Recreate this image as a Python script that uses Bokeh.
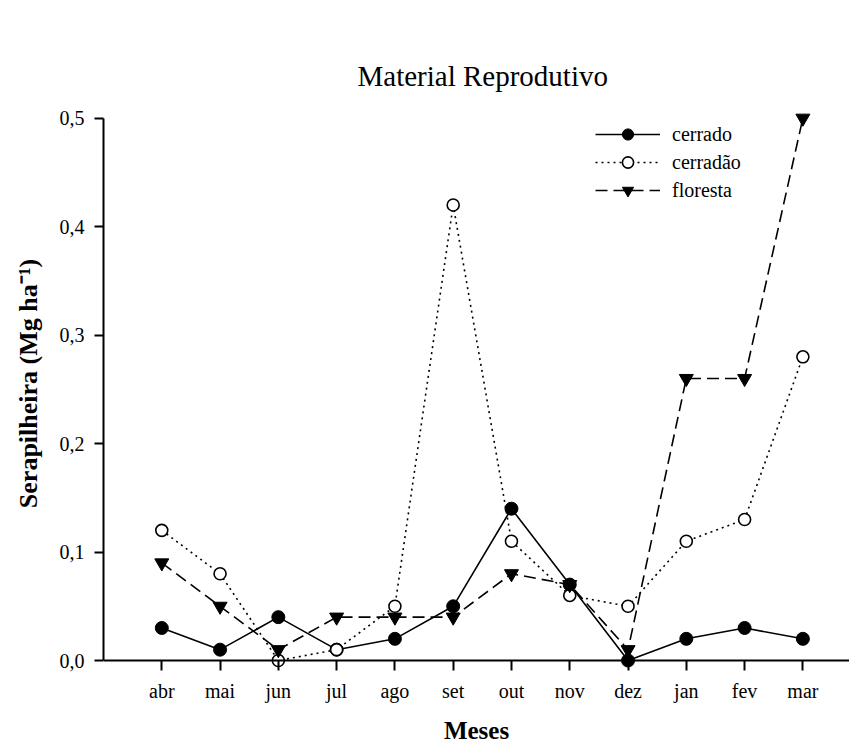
from bokeh.plotting import figure
from bokeh.models import Range1d, FixedTicker, Legend, LegendItem, Span, LinearAxis
from bokeh.embed import file_html
from bokeh.resources import INLINE

months = ["abr", "mai", "jun", "jul", "ago", "set", "out", "nov", "dez", "jan", "fev", "mar"]
cerrado = [0.03, 0.01, 0.04, 0.01, 0.02, 0.05, 0.14, 0.07, 0.00, 0.02, 0.03, 0.02]
cerradao = [0.12, 0.08, 0.00, 0.01, 0.05, 0.42, 0.11, 0.06, 0.05, 0.11, 0.13, 0.28]
floresta = [0.09, 0.05, 0.01, 0.04, 0.04, 0.04, 0.08, 0.07, 0.01, 0.26, 0.26, 0.50]
y_ticks = [0.0, 0.1, 0.2, 0.3, 0.4, 0.5]
y_tick_labels = ["0,0", "0,1", "0,2", "0,3", "0,4", "0,5"]
title_text = "Material Reprodutivo"

xs = list(range(1, len(months) + 1))
FONT = "Liberation Serif"

p = figure(width=849, height=746, output_backend="svg", toolbar_location=None,
           x_range=Range1d(0, 12.8), y_range=Range1d(-0.0092, 0.52),
           min_border_left=103, min_border_right=0, min_border_top=96, min_border_bottom=76)

p.xgrid.visible = False
p.ygrid.visible = False
p.outline_line_color = None

p.title.text = title_text
p.title.text_font = FONT
p.title.text_font_size = "29px"
p.title.text_font_style = "normal"
p.title.text_color = "black"
p.title.align = "left"
p.title.offset = 254
p.title.vertical_align = "bottom"
p.title.standoff = 10

xa = p.below[0]
xa.ticker = FixedTicker(ticks=xs)
xa.major_label_overrides = {x: m for x, m in zip(xs, months)}
xa.minor_tick_line_color = None
xa.axis_line_color = None
xa.axis_label = "Meses"
xa.axis_label_text_font = FONT
xa.axis_label_text_font_style = "bold"
xa.axis_label_text_font_size = "25px"
xa.axis_label_text_color = "black"
xa.axis_label_standoff = 12
xa.major_label_text_font = FONT
xa.major_label_text_font_size = "20px"
xa.major_label_text_color = "black"
xa.major_label_standoff = 9
xa.major_tick_out = 0
xa.major_tick_in = 10
xa.major_tick_line_width = 2

ya = p.left[0]
ya.bounds = (0, 0.5)
ya.ticker = FixedTicker(ticks=y_ticks)
ya.major_label_overrides = {t: l for t, l in zip(y_ticks, y_tick_labels)}
ya.minor_tick_line_color = None
ya.axis_label = "Serapilheira (Mg ha\u207b\u00b9)"
ya.axis_label_text_font = FONT
ya.axis_label_text_font_style = "bold"
ya.axis_label_text_font_size = "26px"
ya.axis_label_text_color = "black"
ya.axis_label_standoff = 14
ya.major_label_text_font = FONT
ya.major_label_text_font_size = "20px"
ya.major_label_text_color = "black"
ya.major_label_standoff = 10
ya.major_tick_out = 9
ya.major_tick_in = 0
ya.axis_line_width = 2
ya.major_tick_line_width = 2

# invisible spacer next to the frame that lifts the title upward
spacer = LinearAxis(ticker=FixedTicker(ticks=[]), axis_line_alpha=0,
                    major_tick_line_color="white", major_tick_line_alpha=0,
                    minor_tick_line_color=None,
                    major_tick_out=45, major_tick_in=0)
p.add_layout(spacer, "above")

p.add_layout(Span(location=0, dimension="width", line_color="black", line_width=2))

l1 = p.line(xs, cerrado, line_color="black", line_width=1.6)
l2 = p.line(xs, cerradao, line_color="black", line_width=1.6, line_dash="2 4")
l3 = p.line(xs, floresta, line_color="black", line_width=1.6, line_dash="12 6")
m1 = p.scatter(xs, cerrado, marker="circle", size=13, fill_color="black", line_color="black")
m2 = p.scatter(xs, cerradao, marker="circle", size=12, fill_color="white", line_color="black", line_width=1.6)
m3 = p.scatter(xs, floresta, marker="inverted_triangle", size=14, fill_color="black", line_color="black")

legend = Legend(items=[
    LegendItem(label="cerrado", renderers=[l1, m1]),
    LegendItem(label="cerradão", renderers=[l2, m2]),
    LegendItem(label="floresta", renderers=[l3, m3]),
], location=(487, 461))
legend.label_text_font = FONT
legend.label_text_font_size = "20px"
legend.label_text_color = "black"
legend.glyph_width = 65
legend.glyph_height = 28
legend.label_height = 20
legend.label_standoff = 12
legend.spacing = 0
legend.padding = 5
legend.margin = 0
legend.background_fill_alpha = 0
legend.border_line_alpha = 0
p.add_layout(legend, "center")

open("out.html", "w").write(file_html(p, INLINE))
